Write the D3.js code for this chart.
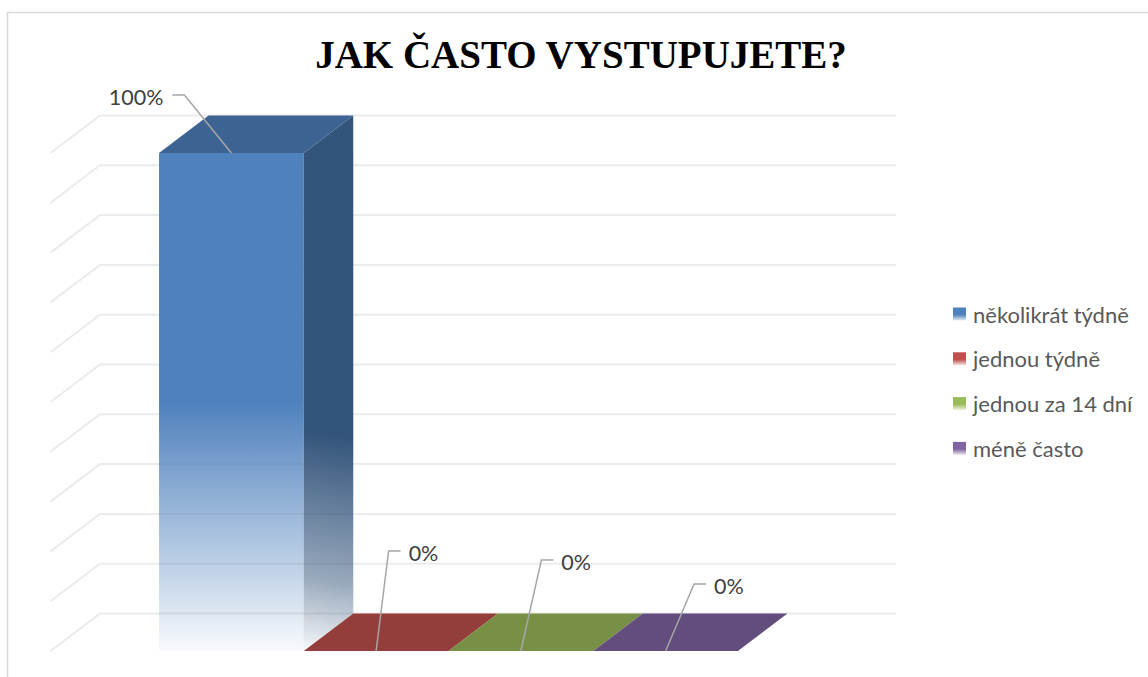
<!DOCTYPE html>
<html>
<head>
<meta charset="utf-8">
<script src="https://cdn.jsdelivr.net/npm/d3@7"></script>
<style>
  html, body { margin: 0; padding: 0; background: #fff; }
  svg { display: block; }
</style>
</head>
<body>
<svg id="chart" width="1148" height="677"></svg>
<script>
// Survey answers: how often the respondents perform
const series = ["několikrát týdně", "jednou týdně", "jednou za 14 dní", "méně často"];
const values = [1, 0, 0, 0];
const gridTicks = [0, 0.1, 0.2, 0.3, 0.4, 0.5, 0.6, 0.7, 0.8, 0.9, 1];
const palette = ["#4F81BD", "#C0504D", "#9BBB59", "#8064A2"];
const title = "JAK ČASTO VYSTUPUJETE?";

const svg = d3.select("#chart");

// 3D projection: the front plane is shifted down-left from the back wall
const DX = -49.5, DY = 37.5;

const x = d3.scaleBand().domain(series).range([100, 896]).paddingInner(0).paddingOuter(0.75);
const y = d3.scaleLinear().domain([0, 1]).range([613.5, 115.5]);
const bw = x.bandwidth();

const shade = (c, k) => { const r = d3.rgb(c); return d3.rgb(r.r * k, r.g * k, r.b * k).formatHex(); };
const pct = d3.format(".0%");

// outer chart frame
svg.append("rect")
  .attr("x", 7.5).attr("y", 12.5).attr("width", 1300).attr("height", 1000)
  .attr("fill", "none").attr("stroke", "#d9d9d9").attr("stroke-width", 1.5);

const defs = svg.append("defs");

// gridlines on the back wall and left side wall
const x0 = x.range()[0], x1 = x.range()[1];
svg.append("g").selectAll("path").data(gridTicks).join("path")
  .attr("d", t => `M${x0 + DX},${y(t) + DY}L${x0},${y(t)}L${x1},${y(t)}`)
  .attr("fill", "none").attr("stroke", "#ebebeb").attr("stroke-width", 2);

// bars
const bars = svg.append("g");
series.forEach((s, i) => {
  const c = palette[i];
  const v = values[i];
  const xl = x(s), xr = x(s) + bw;
  const yt = y(v), yb = y(0);
  const g = bars.append("g");
  if (v > 0) {
    // front face: solid above, fading out towards the floor
    const gFront = defs.append("linearGradient").attr("id", "front" + i)
      .attr("gradientUnits", "userSpaceOnUse")
      .attr("x1", 0).attr("y1", yt + DY).attr("x2", 0).attr("y2", yb + DY);
    gFront.append("stop").attr("offset", 0).attr("stop-color", c).attr("stop-opacity", 1);
    gFront.append("stop").attr("offset", 0.5).attr("stop-color", c).attr("stop-opacity", 1);
    gFront.append("stop").attr("offset", 1).attr("stop-color", c).attr("stop-opacity", 0.04);

    // side face: darker, fading diagonally towards the front-bottom corner
    const side = shade(c, 0.65);
    const gSide = defs.append("linearGradient").attr("id", "side" + i)
      .attr("gradientUnits", "userSpaceOnUse")
      .attr("x1", xr).attr("y1", y(v * 0.5)).attr("x2", xr + DX).attr("y2", yb + DY);
    gSide.append("stop").attr("offset", 0).attr("stop-color", side).attr("stop-opacity", 1);
    gSide.append("stop").attr("offset", 0.25).attr("stop-color", side).attr("stop-opacity", 1);
    gSide.append("stop").attr("offset", 0.75).attr("stop-color", side).attr("stop-opacity", 0.5);
    gSide.append("stop").attr("offset", 1).attr("stop-color", side).attr("stop-opacity", 0.04);

    g.append("rect")
      .attr("x", xl + DX).attr("y", yt + DY)
      .attr("width", bw).attr("height", yb - yt)
      .attr("fill", `url(#front${i})`);
    g.append("path")
      .attr("d", `M${xr + DX},${yt + DY}L${xr},${yt}L${xr},${yb}L${xr + DX},${yb + DY}Z`)
      .attr("fill", `url(#side${i})`);
  }
  // top face
  g.append("path")
    .attr("d", `M${xl + DX},${yt + DY}L${xr + DX},${yt + DY}L${xr},${yt}L${xl},${yt}Z`)
    .attr("fill", shade(c, 0.77));
});

// data labels with leader lines to the front-top centre of each bar
const labelOffsets = [[-47, -58], [12.5, -100], [20.5, -91], [28.5, -67]];
const labels = svg.append("g");
series.forEach((s, i) => {
  const ax = x(s) + bw / 2 + DX, ay = y(values[i]) + DY;
  const [ox, oy] = labelOffsets[i];
  const ex = ax + ox, ey = ay + oy;
  const left = ox < 0;
  const hx = left ? ex - 12 : ex + 12;
  labels.append("path")
    .attr("d", `M${ax},${ay}L${ex},${ey}L${hx},${ey}`)
    .attr("fill", "none").attr("stroke", "#a6a6a6").attr("stroke-width", 1.5);
  labels.append("text")
    .attr("x", left ? hx - 9 : hx + 8).attr("y", ey + 2)
    .attr("text-anchor", left ? "end" : "start")
    .attr("dominant-baseline", "central")
    .attr("font-family", "Lato, 'Open Sans', sans-serif")
    .attr("font-size", 21.5).attr("fill", "#404040")
    .text(pct(values[i]));
});

// title
svg.append("text")
  .attr("x", 581).attr("y", 68)
  .attr("text-anchor", "middle")
  .attr("font-family", "'Liberation Serif', 'Times New Roman', serif")
  .attr("font-weight", "bold").attr("font-size", 39).attr("fill", "#000")
  .text(title);

// legend with faded swatches
const legend = svg.append("g");
series.forEach((s, i) => {
  const c = palette[i];
  const gLeg = defs.append("linearGradient").attr("id", "leg" + i)
    .attr("x1", 0).attr("y1", 0).attr("x2", 0).attr("y2", 1);
  gLeg.append("stop").attr("offset", 0).attr("stop-color", c).attr("stop-opacity", 1);
  gLeg.append("stop").attr("offset", 0.55).attr("stop-color", c).attr("stop-opacity", 1);
  gLeg.append("stop").attr("offset", 1).attr("stop-color", c).attr("stop-opacity", 0.15);

  const cy = 314 + i * 44.8;
  legend.append("rect")
    .attr("x", 953).attr("y", cy - 6.5).attr("width", 13).attr("height", 13)
    .attr("fill", `url(#leg${i})`);
  legend.append("text")
    .attr("x", 973).attr("y", cy)
    .attr("dominant-baseline", "central")
    .attr("font-family", "Lato, 'Open Sans', sans-serif")
    .attr("font-size", 22).attr("fill", "#595959")
    .text(s);
});
</script>
</body>
</html>
